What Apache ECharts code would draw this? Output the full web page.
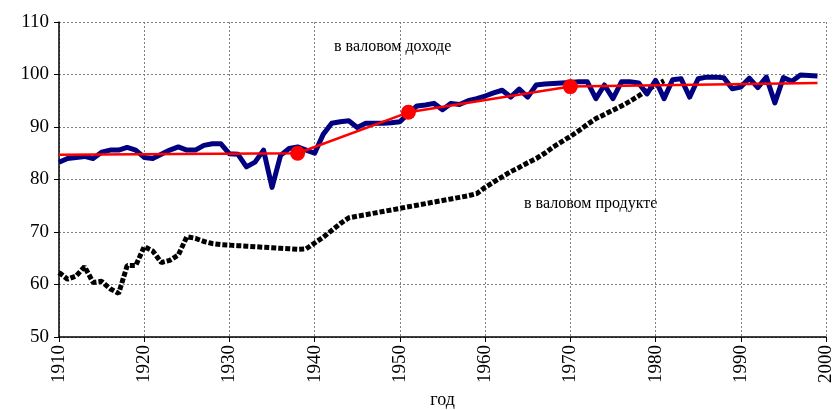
<!DOCTYPE html>
<html>
<head>
<meta charset="utf-8">
<script src="https://cdn.jsdelivr.net/npm/echarts@6/dist/echarts.min.js"></script>
<style>
  html, body { margin: 0; padding: 0; background: #fff; }
  #chart { width: 834px; height: 410px; }
</style>
</head>
<body>
<div id="chart"></div>
<script>
// доля в валовом доходе (синяя линия), 1910-1999
var incomeYears = [1910,1911,1912,1913,1914,1915,1916,1917,1918,1919,
  1920,1921,1922,1923,1924,1925,1926,1927,1928,1929,
  1930,1931,1932,1933,1934,1935,1936,1937,1938,1939,
  1940,1941,1942,1943,1944,1945,1946,1947,1948,1949,
  1950,1951,1952,1953,1954,1955,1956,1957,1958,1959,
  1960,1961,1962,1963,1964,1965,1966,1967,1968,1969,
  1970,1971,1972,1973,1974,1975,1976,1977,1978,1979,
  1980,1981,1982,1983,1984,1985,1986,1987,1988,1989,
  1990,1991,1992,1993,1994,1995,1996,1997,1998,1999];
var incomeVals = [83.3,84.0,84.2,84.4,84.0,85.2,85.6,85.6,86.1,85.6,
  84.2,84.0,84.8,85.6,86.2,85.6,85.6,86.5,86.8,86.8,
  84.9,84.8,82.4,83.3,85.6,78.5,84.6,85.9,86.2,85.6,
  85.0,88.6,90.7,91.0,91.2,89.9,90.7,90.7,90.7,90.8,
  91.0,92.6,94.0,94.2,94.5,93.3,94.5,94.3,95.0,95.4,
  95.9,96.5,97.0,95.7,97.2,95.7,98.0,98.2,98.3,98.4,
  98.5,98.6,98.6,95.4,98.0,95.4,98.6,98.6,98.4,96.3,
  98.9,95.4,99.0,99.2,95.7,99.2,99.5,99.5,99.4,97.3,
  97.6,99.3,97.5,99.5,94.6,99.4,98.7,99.9,99.8,99.7];

// доля в валовом продукте (чёрная линия), 1910-1981
var productYears = [1910,1911,1912,1913,1914,1915,1916,1917,1918,1919,
  1920,1921,1922,1923,1924,1925,1926,1927,1928,1929,
  1930,1931,1932,1933,1934,1935,1936,1937,1938,1939,
  1940,1941,1942,1943,1944,1945,1946,1947,1948,1949,
  1950,1951,1952,1953,1954,1955,1956,1957,1958,1959,
  1960,1961,1962,1963,1964,1965,1966,1967,1968,1969,
  1970,1971,1972,1973,1974,1975,1976,1977,1978,1979,
  1980,1981];
var productVals = [62.3,61.0,61.6,63.4,60.4,60.6,59.2,58.3,63.6,63.6,
  67.2,66.4,64.2,64.6,65.6,69.1,68.8,68.2,67.8,67.6,
  67.5,67.4,67.3,67.2,67.1,67.0,66.9,66.8,66.7,66.8,
  67.9,69.0,70.3,71.6,72.7,73.0,73.3,73.6,73.9,74.2,
  74.5,74.8,75.1,75.4,75.7,76.0,76.3,76.6,76.9,77.3,
  78.5,79.5,80.5,81.5,82.3,83.2,84.0,85.0,86.2,87.2,
  88.2,89.3,90.5,91.6,92.4,93.2,94.0,94.9,95.9,97.0,
  98.0,98.8];

// тренд (красная ломаная) и точки перелома
var trendYears = [1910, 1938, 1951, 1970, 1999];
var trendVals = [84.7, 85.0, 92.8, 97.7, 98.4];
var breakYears = [1938, 1951, 1970];
var breakVals = [85.0, 92.8, 97.7];

var xTicks = [1910, 1920, 1930, 1940, 1950, 1960, 1970, 1980, 1990, 2000];
var yTicks = [50, 60, 70, 80, 90, 100, 110];

function pairs(xs, ys) {
  return xs.map(function (x, i) { return [x, ys[i]]; });
}

var myChart = echarts.init(document.getElementById('chart'));
var serif = '"Liberation Serif", "Times New Roman", serif';

var option = {
  animation: false,
  textStyle: { fontFamily: serif },
  grid: { left: 59, right: 8, top: 22, bottom: 73, outerBoundsMode: 'none', containLabel: false },
  xAxis: {
    type: 'value',
    min: xTicks[0],
    max: xTicks[xTicks.length - 1],
    interval: 10,
    name: 'год',
    nameLocation: 'middle',
    nameGap: 52,
    nameTextStyle: { fontFamily: serif, fontSize: 18, color: '#000' },
    axisLine: { show: true, onZero: false, lineStyle: { color: '#000', width: 1.5 } },
    axisTick: { show: true, length: 5, lineStyle: { color: '#000' } },
    axisLabel: {
      rotate: 90, margin: 8, fontFamily: serif, fontSize: 19, color: '#000',
      formatter: function (v) { return String(v); }
    },
    splitLine: { show: true, lineStyle: { color: '#808080', type: [2, 2], width: 1 } }
  },
  yAxis: {
    type: 'value',
    min: yTicks[0],
    max: yTicks[yTicks.length - 1],
    interval: 10,
    axisLine: { show: true, lineStyle: { color: '#000', width: 1.5 } },
    axisTick: { show: true, length: 5, lineStyle: { color: '#000' } },
    axisLabel: { margin: 10, fontFamily: serif, fontSize: 19, color: '#000' },
    splitLine: { show: true, lineStyle: { color: '#808080', type: [2, 2], width: 1 } }
  },
  series: [
    {
      name: 'в валовом продукте',
      type: 'line',
      data: pairs(productYears, productVals),
      showSymbol: false,
      lineStyle: { color: '#000', width: 5, type: [5, 2] },
      z: 2
    },
    {
      name: 'в валовом доходе',
      type: 'line',
      data: pairs(incomeYears, incomeVals),
      showSymbol: false,
      lineStyle: { color: '#000080', width: 5, join: 'round' },
      z: 3
    },
    {
      name: 'тренд',
      type: 'line',
      data: pairs(trendYears, trendVals),
      showSymbol: false,
      lineStyle: { color: '#ff0000', width: 2.5 },
      z: 4
    },
    {
      name: 'перелом',
      type: 'scatter',
      data: pairs(breakYears, breakVals),
      symbolSize: 15,
      itemStyle: { color: '#ff0000', opacity: 1 },
      z: 5
    }
  ],
  graphic: [
    {
      type: 'text', left: 334, top: 39,
      style: { text: 'в валовом доходе', font: '16px ' + serif, fill: '#000' }
    },
    {
      type: 'text', left: 524, top: 196,
      style: { text: 'в валовом продукте', font: '16px ' + serif, fill: '#000' }
    }
  ]
};

myChart.setOption(option);
</script>
</body>
</html>
